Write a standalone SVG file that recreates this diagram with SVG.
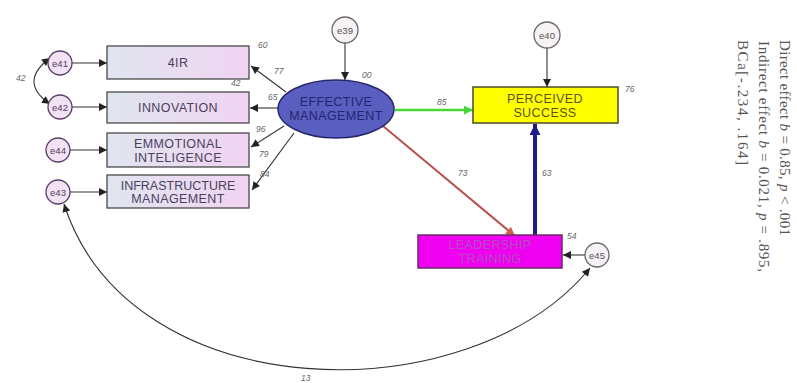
<svg xmlns="http://www.w3.org/2000/svg" width="797" height="383" viewBox="0 0 797 383">
  <defs>
    <linearGradient id="boxFill" x1="0" y1="0" x2="1" y2="0">
      <stop offset="0" stop-color="#dfe6f0"/>
      <stop offset="1" stop-color="#f1d3f1"/>
    </linearGradient>
    <marker id="ah" viewBox="0 0 10 10" refX="10" refY="5" markerWidth="10" markerHeight="8" markerUnits="userSpaceOnUse" orient="auto-start-reverse">
      <path d="M0,0 L10,5 L0,10 Z" fill="#222"/>
    </marker>
    <marker id="ahGreen" viewBox="0 0 10 10" refX="10" refY="5" markerWidth="12" markerHeight="9" markerUnits="userSpaceOnUse" orient="auto">
      <path d="M0,0 L10,5 L0,10 Z" fill="#47d63a"/>
    </marker>
    <marker id="ahRed" viewBox="0 0 10 10" refX="10" refY="5" markerWidth="12" markerHeight="9" markerUnits="userSpaceOnUse" orient="auto">
      <path d="M0,0 L10,5 L0,10 Z" fill="#d0604a"/>
    </marker>
    <marker id="ahBlue" viewBox="0 0 10 10" refX="10" refY="5" markerWidth="14" markerHeight="11" markerUnits="userSpaceOnUse" orient="auto">
      <path d="M0,0 L10,5 L0,10 Z" fill="#1c1c8a"/>
    </marker>
  </defs>
  <style>
    .obs { fill: url(#boxFill); stroke: #4a4a4a; stroke-width: 1.3; }
    .obsTxt { font-family: "Liberation Sans", Arial, sans-serif; font-size: 12.5px; letter-spacing: 0.4px; fill: #4b405e; text-anchor: middle; }
    .err { fill: #f3e2f3; stroke: #5a3d6a; stroke-width: 1.3; }
    .errTxt { font-family: "Liberation Sans", Arial, sans-serif; font-size: 9.5px; fill: #4b405e; text-anchor: middle; }
    .err2 { fill: #f6f2f6; stroke: #6a6a6a; stroke-width: 1.3; }
    .num { font-family: "Liberation Sans", Arial, sans-serif; font-size: 8.5px; fill: #666; font-style: italic; }
    .path { fill: none; stroke: #333; stroke-width: 1.1; marker-end: url(#ah); }
    .cov { fill: none; stroke: #333; stroke-width: 1.1; marker-start: url(#ah); marker-end: url(#ah); }
    .note { font-family: "Liberation Serif", "Times New Roman", serif; font-size: 15px; fill: #555; }
  </style>

  <rect width="797" height="383" fill="#ffffff"/>

  <!-- connectors -->
  <g id="connectors">
    <!-- error terms to indicators -->
    <line class="path" x1="72" y1="63" x2="107" y2="63"/>
    <line class="path" x1="72" y1="107" x2="107" y2="107"/>
    <line class="path" x1="70" y1="150" x2="107" y2="150"/>
    <line class="path" x1="70" y1="192" x2="107" y2="192"/>
    <!-- latent factor to indicators -->
    <line class="path" x1="286" y1="92" x2="251" y2="66"/>
    <line class="path" x1="279" y1="108" x2="250" y2="108"/>
    <line class="path" x1="284" y1="126" x2="251" y2="147"/>
    <line class="path" x1="294" y1="133" x2="252" y2="190"/>
    <!-- disturbances -->
    <line class="path" x1="345" y1="43" x2="345" y2="80"/>
    <line class="path" x1="547" y1="48" x2="547" y2="87"/>
    <line class="path" x1="585" y1="255" x2="563" y2="255"/>
    <!-- structural paths -->
    <line x1="395" y1="110" x2="473" y2="110" stroke="#47d63a" stroke-width="2.4" marker-end="url(#ahGreen)"/>
    <line x1="383" y1="126" x2="515" y2="236" stroke="#b8524a" stroke-width="2" marker-end="url(#ahRed)"/>
    <line x1="535" y1="235" x2="535" y2="124" stroke="#1c1c8a" stroke-width="4" marker-end="url(#ahBlue)"/>
    <!-- covariances -->
    <path class="cov" d="M50,58 Q18,82 50,104"/>
    <path class="cov" d="M64,204 C130,410 470,415 590,268"/>
  </g>

  <!-- path coefficients -->
  <g id="estimates">
    <text class="num" x="16" y="81">42</text>
    <text class="num" x="258" y="48">60</text>
    <text class="num" x="231" y="86">42</text>
    <text class="num" x="274" y="74">77</text>
    <text class="num" x="268" y="100">65</text>
    <text class="num" x="256" y="132">96</text>
    <text class="num" x="259" y="157">79</text>
    <text class="num" x="260" y="177">84</text>
    <text class="num" x="362" y="78">00</text>
    <text class="num" x="437" y="105">85</text>
    <text class="num" x="458" y="176">73</text>
    <text class="num" x="542" y="176">63</text>
    <text class="num" x="625" y="92">76</text>
    <text class="num" x="567" y="239">54</text>
    <text class="num" x="301" y="381">13</text>
  </g>

  <!-- error terms -->
  <g id="e41"><circle class="err" cx="60" cy="63" r="12"/><text class="errTxt" x="60" y="66.5">e41</text></g>
  <g id="e42"><circle class="err" cx="60" cy="107" r="12"/><text class="errTxt" x="60" y="110.5">e42</text></g>
  <g id="e44"><circle class="err" cx="58" cy="150" r="12"/><text class="errTxt" x="58" y="153.5">e44</text></g>
  <g id="e43"><circle class="err" cx="58" cy="192" r="12"/><text class="errTxt" x="58" y="195.5">e43</text></g>
  <g id="e39"><circle class="err2" cx="345" cy="30" r="13"/><text class="errTxt" x="345" y="33.5" style="fill:#555">e39</text></g>
  <g id="e40"><circle class="err2" cx="547" cy="35" r="13"/><text class="errTxt" x="547" y="38.5" style="fill:#555">e40</text></g>
  <g id="e45"><circle class="err2" cx="597" cy="255" r="12"/><text class="errTxt" x="597" y="258.5" style="fill:#555">e45</text></g>

  <!-- indicators -->
  <g id="n4IR"><rect class="obs" x="107" y="46" width="142" height="33"/><text class="obsTxt" x="178" y="67">4IR</text></g>
  <g id="nInnovation"><rect class="obs" x="107" y="92" width="142" height="31"/><text class="obsTxt" x="178" y="112">INNOVATION</text></g>
  <g id="nEmotional"><rect class="obs" x="107" y="133" width="142" height="34"/><text class="obsTxt" x="178" y="148">EMMOTIONAL</text><text class="obsTxt" x="178" y="162">INTELIGENCE</text></g>
  <g id="nInfrastructure"><rect class="obs" x="107" y="175" width="142" height="33"/><text class="obsTxt" x="178" y="190" style="letter-spacing:0">INFRASTRUCTURE</text><text class="obsTxt" x="178" y="203">MANAGEMENT</text></g>

  <!-- latent factor -->
  <g id="nEffective">
    <ellipse cx="336" cy="109" rx="58" ry="29" fill="#5a5ec0" stroke="#262a6a" stroke-width="1.5"/>
    <text class="obsTxt" x="336" y="106" style="fill:#23266e">EFFECTIVE</text>
    <text class="obsTxt" x="336" y="120" style="fill:#23266e">MANAGEMENT</text>
  </g>

  <!-- outcomes -->
  <g id="nPerceived">
    <rect x="473" y="87" width="145" height="36" fill="#ffff00" stroke="#4a4a2a" stroke-width="1.5"/>
    <text class="obsTxt" x="545" y="103" style="fill:#5a5220">PERCEIVED</text>
    <text class="obsTxt" x="545" y="117" style="fill:#5a5220">SUCCESS</text>
  </g>
  <g id="nLeadership">
    <rect x="418" y="235" width="144" height="33" fill="#f000f0" stroke="#6a2a6a" stroke-width="1.5"/>
    <text class="obsTxt" x="490" y="249" style="fill:#b050c0">LEADERSHIP</text>
    <text class="obsTxt" x="490" y="263" style="fill:#b050c0">TRAINING</text>
  </g>

  <!-- mediation summary, rotated -->
  <g id="summary">
    <text class="note" transform="translate(780,40) rotate(90)" textLength="196" lengthAdjust="spacing">Direct effect <tspan font-style="italic">b</tspan> = 0.85, <tspan font-style="italic">p</tspan> &lt; .001</text>
    <text class="note" transform="translate(759,41) rotate(90)" textLength="231" lengthAdjust="spacing">Indirect effect <tspan font-style="italic">b</tspan> = 0.021, <tspan font-style="italic">p</tspan> = .895,</text>
    <text class="note" transform="translate(738,40) rotate(90)" textLength="125" lengthAdjust="spacing">BCa[-.234, .164]</text>
  </g>
</svg>
